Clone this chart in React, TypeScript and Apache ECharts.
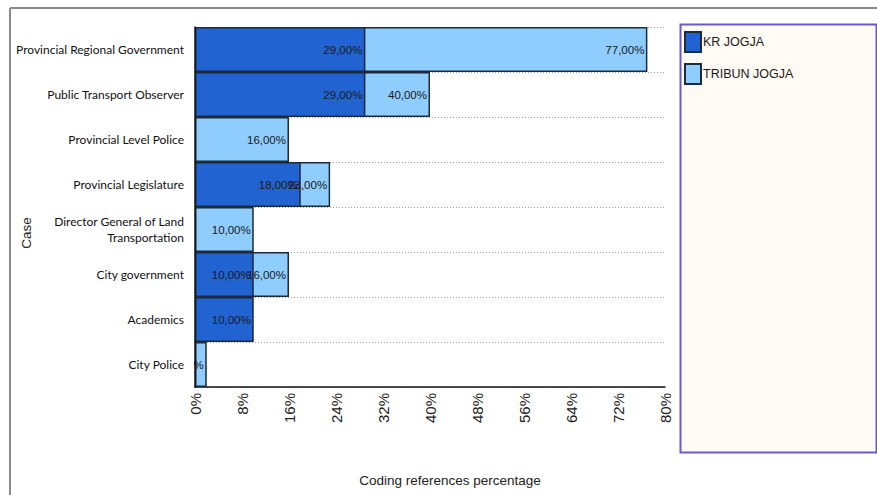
import React, { useEffect, useRef } from 'react';
import * as echarts from 'echarts';

const categories = [
  'Provincial Regional Government',
  'Public Transport Observer',
  'Provincial Level Police',
  'Provincial Legislature',
  'Director General of Land\nTransportation',
  'City government',
  'Academics',
  'City Police',
];
const krValues = [29, 29, null, 18, null, 10, 10, null];
const tribunValues = [77, 40, 16, 23, 10, 16, null, 2];
const seriesNames = ['KR JOGJA', 'TRIBUN JOGJA'];
const xMin = 0;
const xMax = 80;
const xInterval = 8;
const xTitle = 'Coding references percentage';
const yTitle = 'Case';

const SANS = '"Liberation Sans", Arial, sans-serif';

export default function App() {
  const ref = useRef<HTMLDivElement>(null);
  useEffect(() => {
    const chart = echarts.init(ref.current!, null, { renderer: 'svg' });
    const fmt = (p: any) => Number(p.value).toFixed(2).replace('.', ',') + '%';
    const labelCfg = {
      show: true,
      position: 'insideRight',
      distance: 3,
      formatter: fmt,
      color: '#1a1a1a',
      fontFamily: SANS,
      fontSize: 11.5,
    };
    const border = { borderColor: '#1d2a3a', borderWidth: 1.5 };
    chart.setOption({
      animation: false,
      grid: { left: 195, top: 27, width: 470, height: 360, containLabel: false },
      legend: {
        data: seriesNames,
        orient: 'vertical',
        left: 684,
        top: 31,
        itemWidth: 16,
        itemHeight: 20,
        itemGap: 10,
        icon: 'rect',
        padding: 0,
        textStyle: { fontFamily: SANS, fontSize: 12.5, color: '#1a1a1a', padding: [0, 0, 0, -3] },
      },
      xAxis: {
        type: 'value',
        min: xMin,
        max: xMax,
        interval: xInterval,
        axisLine: { show: true, lineStyle: { color: '#111', width: 1.5 } },
        axisTick: { show: false },
        splitLine: { show: false },
        axisLabel: {
          rotate: 90,
          formatter: '{value}%',
          fontFamily: SANS,
          fontSize: 15,
          color: '#222',
          margin: 6,
        },
      },
      yAxis: [
        {
          type: 'category',
          data: categories,
          inverse: true,
          z: 60,
          axisLine: { show: true, lineStyle: { color: '#111', width: 1.5 } },
          axisTick: { show: false },
          splitLine: { show: false },
          axisLabel: {
            fontFamily: 'Lato',
            fontSize: 12,
            color: '#111',
            margin: 11,
            lineHeight: 16,
          },
        },
        {
          type: 'category',
          data: categories,
          inverse: true,
          position: 'left',
          z: 0,
          axisLine: { show: false },
          axisTick: { show: false },
          axisLabel: { show: false },
          splitLine: { show: true, lineStyle: { color: '#a0a0a0', type: [1, 2], width: 1 } },
        },
      ],
      series: [
        {
          name: seriesNames[1],
          type: 'bar',
          data: tribunValues.map((v) => (v == null ? '-' : v)),
          yAxisIndex: 0,
          z: 2,
          barCategoryGap: '0%',
          barGap: '-100%',
          itemStyle: { color: '#8ecdfd', ...border },
          label: labelCfg,
        },
        {
          name: seriesNames[0],
          type: 'bar',
          data: krValues.map((v) => (v == null ? '-' : v)),
          yAxisIndex: 0,
          z: 2,
          barCategoryGap: '0%',
          barGap: '-100%',
          itemStyle: { color: '#2163d1', ...border },
          label: labelCfg,
        },
      ],
      graphic: [
        { type: 'line', shape: { x1: 10, y1: 8, x2: 877, y2: 8 }, style: { stroke: '#8a8a8a', lineWidth: 2 }, z: 1 },
        { type: 'line', shape: { x1: 10, y1: 8, x2: 10, y2: 495 }, style: { stroke: '#8a8a8a', lineWidth: 2 }, z: 1 },
        {
          type: 'rect',
          shape: { x: 680.5, y: 24.5, width: 196, height: 428 },
          style: { fill: '#fffaf3', stroke: '#6a5acd', lineWidth: 2 },
          z: 0,
        },
        { type: 'rect', shape: { x: 150, y: 344, width: 44, height: 42 }, style: { fill: '#ffffff' }, z: 50 },
        {
          type: 'text',
          x: 26,
          y: 233,
          rotation: Math.PI / 2,
          style: { text: yTitle, textAlign: 'center', textVerticalAlign: 'middle', font: '13.5px "Liberation Sans", Arial, sans-serif', fill: '#222' },
          z: 5,
        },
        {
          type: 'text',
          x: 450,
          y: 480,
          style: { text: xTitle, textAlign: 'center', textVerticalAlign: 'middle', font: '13.5px "Liberation Sans", Arial, sans-serif', fill: '#222' },
          z: 5,
        },
      ],
    });
    return () => chart.dispose();
  }, []);
  return <div ref={ref} style={{ position: 'absolute', left: 0, top: 0, width: 877, height: 495 }} />;
}
